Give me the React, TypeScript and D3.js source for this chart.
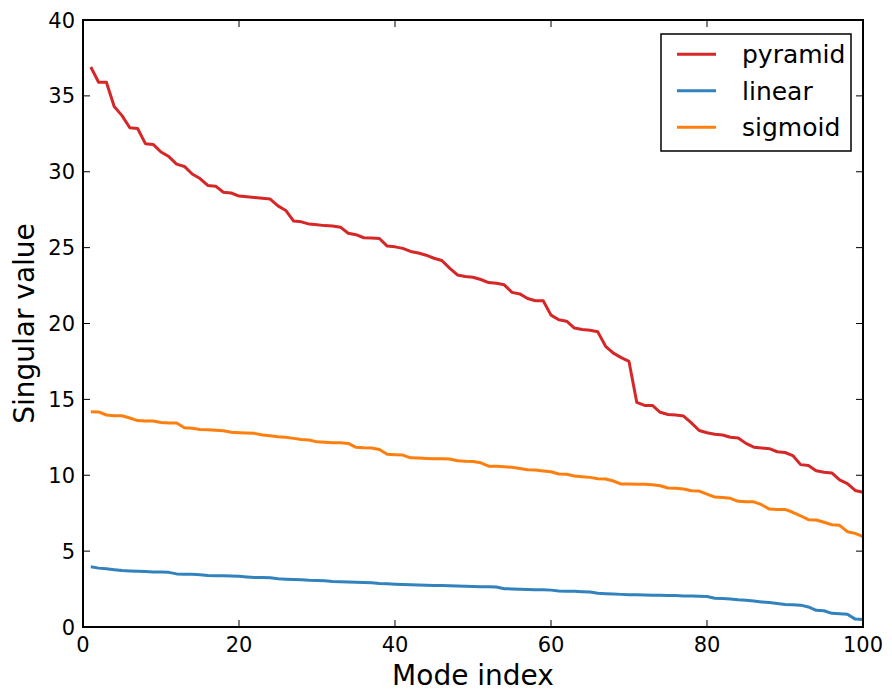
import React from "react";
import * as d3 from "d3";

const pyramid = [
  36.9, 35.9, 35.9, 34.3, 33.7, 32.9, 32.85, 31.85, 31.8, 31.3,
  31.0, 30.5, 30.35, 29.85, 29.55, 29.1, 29.05, 28.65, 28.6, 28.4,
  28.35, 28.3, 28.25, 28.2, 27.75, 27.45, 26.75, 26.7, 26.55, 26.5,
  26.45, 26.42, 26.35, 25.95, 25.85, 25.65, 25.63, 25.6, 25.1, 25.05,
  24.95, 24.75, 24.65, 24.5, 24.3, 24.15, 23.65, 23.2, 23.1, 23.05,
  22.9, 22.7, 22.65, 22.55, 22.05, 21.95, 21.65, 21.5, 21.5, 20.55,
  20.25, 20.15, 19.7, 19.6, 19.55, 19.45, 18.5, 18.05, 17.75, 17.5,
  14.8, 14.6, 14.6, 14.15, 14.0, 13.97, 13.9, 13.45, 12.95, 12.8,
  12.7, 12.65, 12.5, 12.45, 12.1, 11.85, 11.8, 11.75, 11.55, 11.5,
  11.3, 10.7, 10.65, 10.3, 10.2, 10.15, 9.7, 9.45, 9.0, 8.88,
];

const linear = [
  3.97, 3.88, 3.84, 3.78, 3.72, 3.69, 3.67, 3.65, 3.63, 3.62,
  3.6, 3.5, 3.48, 3.47, 3.45, 3.4, 3.38, 3.37, 3.36, 3.34,
  3.3, 3.27, 3.26, 3.24, 3.18, 3.15, 3.13, 3.11, 3.08, 3.07,
  3.05, 3.0, 2.98, 2.96, 2.95, 2.93, 2.92, 2.87, 2.85, 2.82,
  2.8, 2.78, 2.76, 2.75, 2.74, 2.73, 2.72, 2.7, 2.69, 2.67,
  2.66, 2.65, 2.64, 2.52, 2.51, 2.49, 2.47, 2.46, 2.45, 2.43,
  2.38, 2.36, 2.35, 2.33, 2.3, 2.22, 2.19, 2.17, 2.15, 2.13,
  2.12, 2.11, 2.1, 2.09, 2.08, 2.07, 2.05, 2.04, 2.03, 2.01,
  1.9, 1.88, 1.84, 1.79, 1.77, 1.72, 1.65, 1.62, 1.55, 1.48,
  1.47, 1.44, 1.32, 1.1, 1.07, 0.9, 0.88, 0.84, 0.52, 0.5,
];

const sigmoid = [
  14.18, 14.17, 13.97, 13.92, 13.92, 13.77, 13.6, 13.57, 13.57, 13.48,
  13.44, 13.44, 13.13, 13.09, 13.02, 13.0, 12.96, 12.93, 12.83, 12.8,
  12.78, 12.76, 12.65, 12.6, 12.54, 12.5, 12.43, 12.36, 12.32, 12.2,
  12.17, 12.14, 12.14, 12.1, 11.84, 11.81, 11.8, 11.7, 11.38, 11.35,
  11.33, 11.15, 11.13, 11.11, 11.09, 11.09, 11.07, 10.96, 10.92, 10.9,
  10.82, 10.6, 10.59, 10.56, 10.52, 10.45, 10.36, 10.34, 10.28, 10.23,
  10.08, 10.06, 9.95, 9.9, 9.86, 9.77, 9.75, 9.62, 9.42, 9.42,
  9.4, 9.4, 9.37, 9.31, 9.16, 9.14, 9.09, 8.98, 8.96, 8.76,
  8.56, 8.54, 8.48, 8.28, 8.25, 8.25, 8.06, 7.77, 7.75, 7.75,
  7.56, 7.33, 7.07, 7.05, 6.9, 6.74, 6.7, 6.28, 6.17, 5.95,
];

const seriesNames = ["pyramid", "linear", "sigmoid"];
const seriesColors = ["#d62728", "#3182bd", "#ff7f0e"];
const xTicks = [0, 20, 40, 60, 80, 100];
const yTicks = [0, 5, 10, 15, 20, 25, 30, 35, 40];

const W = 892;
const H = 692;
const M = { left: 83, right: 863, top: 20, bottom: 627 };
const FONT = "DejaVu Sans, sans-serif";

export default function App() {
  const x = d3.scaleLinear().domain([0, 100]).range([M.left, M.right]);
  const y = d3.scaleLinear().domain([0, 40]).range([M.bottom, M.top]);
  const all = [pyramid, linear, sigmoid];
  const line = d3
    .line<number>()
    .x((_, i) => x(i + 1))
    .y((d) => y(d));

  const tickLen = 7;
  return (
    <svg
      width={W}
      height={H}
      style={{ position: "absolute", left: 0, top: 0, background: "#fff" }}
      fontFamily={FONT}
    >
      <rect x={0} y={0} width={W} height={H} fill="#fff" />
      {all.map((s, k) => (
        <path
          key={k}
          d={line(s) || ""}
          fill="none"
          stroke={seriesColors[k]}
          strokeWidth={3}
          strokeLinejoin="round"
        />
      ))}
      {/* ticks */}
      {xTicks.map((t) => (
        <g key={"x" + t}>
          <line x1={x(t)} x2={x(t)} y1={M.bottom} y2={M.bottom - tickLen} stroke="#000" strokeWidth={1} />
          <line x1={x(t)} x2={x(t)} y1={M.top} y2={M.top + tickLen} stroke="#000" strokeWidth={1} />
          <text x={x(t)} y={652} textAnchor="middle" fontSize={21} fill="#000">
            {t}
          </text>
        </g>
      ))}
      {yTicks.map((t) => (
        <g key={"y" + t}>
          <line x1={M.left} x2={M.left + tickLen} y1={y(t)} y2={y(t)} stroke="#000" strokeWidth={1} />
          <line x1={M.right} x2={M.right - tickLen} y1={y(t)} y2={y(t)} stroke="#000" strokeWidth={1} />
          <text x={M.left - 8} y={y(t)} dy="0.36em" textAnchor="end" fontSize={21} fill="#000">
            {t}
          </text>
        </g>
      ))}
      <rect
        x={M.left}
        y={M.top}
        width={M.right - M.left}
        height={M.bottom - M.top}
        fill="none"
        stroke="#000"
        strokeWidth={2}
      />
      <text x={(M.left + M.right) / 2} y={685} textAnchor="middle" fontSize={28} fill="#000">
        Mode index
      </text>
      <text
        transform={`translate(34,${(M.top + M.bottom) / 2}) rotate(-90)`}
        textAnchor="middle"
        fontSize={28}
        fill="#000"
      >
        Singular value
      </text>
      {/* legend */}
      <g>
        <rect x={661} y={34} width={190} height={117} fill="#fff" stroke="#000" strokeWidth={1.5} />
        {seriesNames.map((n, k) => (
          <g key={n}>
            <line x1={677} x2={716} y1={54.3 + k * 36.5} y2={54.3 + k * 36.5} stroke={seriesColors[k]} strokeWidth={3} />
            <text x={742} y={54.3 + k * 36.5} dy="0.36em" fontSize={25} fill="#000">
              {n}
            </text>
          </g>
        ))}
      </g>
    </svg>
  );
}
